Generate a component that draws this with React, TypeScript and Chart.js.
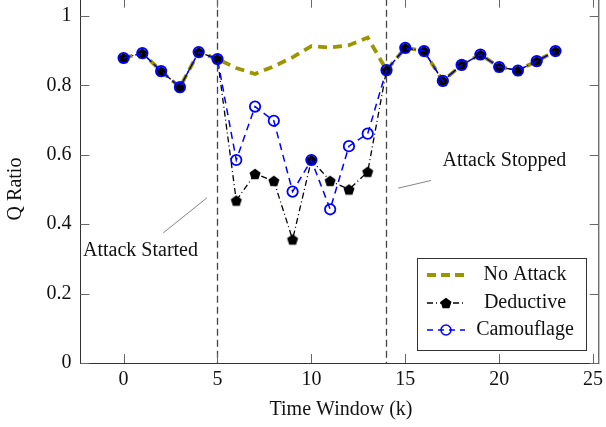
import React, { useEffect, useRef } from "react";
import { Chart, registerables } from "chart.js";

Chart.register(...registerables);

const timeWindows = [0, 1, 2, 3, 4, 5, 6, 7, 8, 9, 10, 11, 12, 13, 14, 15, 16, 17, 18, 19, 20, 21, 22, 23];
const noAttack = [0.879, 0.893, 0.841, 0.795, 0.896, 0.876, 0.85, 0.833, 0.855, 0.881, 0.913, 0.909, 0.916, 0.938, 0.844, 0.908, 0.899, 0.813, 0.859, 0.889, 0.853, 0.843, 0.87, 0.899];
const deductive = [0.879, 0.893, 0.841, 0.795, 0.896, 0.876, 0.468, 0.545, 0.525, 0.356, 0.585, 0.525, 0.5, 0.551, 0.844, 0.908, 0.899, 0.813, 0.859, 0.889, 0.853, 0.843, 0.87, 0.899];
const camouflage = [0.879, 0.893, 0.841, 0.795, 0.896, 0.876, 0.585, 0.739, 0.698, 0.494, 0.585, 0.443, 0.625, 0.661, 0.844, 0.908, 0.899, 0.813, 0.859, 0.889, 0.853, 0.843, 0.87, 0.899];
const xTicks = [0, 5, 10, 15, 20, 25];
const yTicks = [0, 0.2, 0.4, 0.6, 0.8, 1];
const attackStart = 5;
const attackStop = 14;
const seriesNames = ["No Attack", "Deductive", "Camouflage"];

const OLIVE = "rgb(155,150,0)";
const BLUE = "#0000ff";
const FONT = "Liberation Serif";
const OFFSET_Y = 10;
const W = 606;
const H = 437;

function makePentagon(r: number): HTMLCanvasElement {
  const c = document.createElement("canvas");
  const s = Math.ceil(r * 2 + 2);
  c.width = s;
  c.height = s;
  const g = c.getContext("2d")!;
  g.fillStyle = "#000";
  g.beginPath();
  for (let i = 0; i < 5; i++) {
    const a = -Math.PI / 2 + (i * 2 * Math.PI) / 5;
    const px = s / 2 + r * Math.cos(a);
    const py = s / 2 + 0.5 + r * Math.sin(a);
    if (i === 0) g.moveTo(px, py);
    else g.lineTo(px, py);
  }
  g.closePath();
  g.fill();
  return c;
}

export default function App() {
  const ref = useRef<HTMLCanvasElement>(null);

  useEffect(() => {
    document.body.style.overflow = "hidden";
    const pent = makePentagon(5.8);
    const toXY = (arr: number[]) => timeWindows.map((k, i) => ({ x: k, y: arr[i] }));

    const decor = {
      id: "decor",
      beforeDatasetsDraw(chart: any) {
        const ctx = chart.ctx;
        const xs = chart.scales.x;
        const a = chart.chartArea;
        ctx.save();
        ctx.strokeStyle = "#444";
        ctx.lineWidth = 1.3;
        ctx.setLineDash([7, 4]);
        [attackStart, attackStop].forEach((v) => {
          const px = Math.round(xs.getPixelForValue(v)) + 0.5;
          ctx.beginPath();
          ctx.moveTo(px, a.top);
          ctx.lineTo(px, a.bottom);
          ctx.stroke();
        });
        ctx.restore();
      },
      afterDraw(chart: any) {
        const ctx = chart.ctx;
        const xs = chart.scales.x;
        const ys = chart.scales.y;
        const a = chart.chartArea;
        ctx.save();
        // frame
        ctx.strokeStyle = "#333";
        ctx.lineWidth = 1;
        ctx.setLineDash([]);
        ctx.strokeRect(Math.round(a.left) + 0.5, a.top, a.right - a.left, Math.round(a.bottom) - a.top + 0.5);
        // ticks
        ctx.strokeStyle = "#666";
        const TL = 9;
        xTicks.forEach((v) => {
          const px = Math.round(xs.getPixelForValue(v)) + 0.5;
          ctx.beginPath();
          ctx.moveTo(px, a.bottom);
          ctx.lineTo(px, a.bottom - TL);
          ctx.moveTo(px, a.top);
          ctx.lineTo(px, a.top + TL);
          ctx.stroke();
        });
        yTicks.forEach((v) => {
          const py = Math.round(ys.getPixelForValue(v)) + 0.5;
          ctx.beginPath();
          ctx.moveTo(a.left, py);
          ctx.lineTo(a.left + TL, py);
          ctx.moveTo(a.right, py);
          ctx.lineTo(a.right - TL, py);
          ctx.stroke();
        });

        // annotations
        const P = (x: number, y: number) => [xs.getPixelForValue(x), ys.getPixelForValue(y)];
        ctx.strokeStyle = "#777";
        ctx.lineWidth = 0.9;
        const drawLine = (x1: number, y1: number, x2: number, y2: number) => {
          const [a1, b1] = P(x1, y1);
          const [a2, b2] = P(x2, y2);
          ctx.beginPath();
          ctx.moveTo(a1, b1);
          ctx.lineTo(a2, b2);
          ctx.stroke();
        };
        drawLine(2.11, 0.375, 4.44, 0.476);
        drawLine(14.63, 0.504, 16.37, 0.526);
        ctx.fillStyle = "#111";
        ctx.font = `20px "${FONT}"`;
        ctx.textAlign = "center";
        ctx.textBaseline = "middle";
        {
          const [tx, ty] = P(0.9, 0.323);
          ctx.fillText("Attack Started", tx, ty);
          const [sx, sy] = P(20.28, 0.582);
          ctx.fillText("Attack Stopped", sx, sy);
        }

        // axis titles
        ctx.fillText("Time Window (k)", 341, 410 + OFFSET_Y);
        ctx.save();
        ctx.translate(16, 189 + OFFSET_Y);
        ctx.rotate(-Math.PI / 2);
        ctx.fillText("Q Ratio", 0, 0);
        ctx.restore();

        // legend
        const lx = 417, ly = 258 + OFFSET_Y, lw = 169, lh = 92;
        ctx.fillStyle = "#fff";
        ctx.fillRect(lx, ly, lw, lh);
        ctx.strokeStyle = "#333";
        ctx.lineWidth = 1;
        ctx.strokeRect(lx + 0.5, ly + 0.5, lw, lh);
        const rows = [275, 303, 330].map((v) => v + OFFSET_Y);
        const s0 = 427, s1 = 465, sc = 446;
        ctx.strokeStyle = OLIVE;
        ctx.lineWidth = 3.8;
        ctx.setLineDash([9, 5]);
        ctx.beginPath();
        ctx.moveTo(s0, rows[0]);
        ctx.lineTo(s1, rows[0]);
        ctx.stroke();
        ctx.strokeStyle = "#000";
        ctx.lineWidth = 1.3;
        ctx.setLineDash([6, 3, 1, 3]);
        ctx.beginPath();
        ctx.moveTo(s0, rows[1]);
        ctx.lineTo(s1, rows[1]);
        ctx.stroke();
        ctx.setLineDash([]);
        ctx.drawImage(pent, sc - pent.width / 2, rows[1] - pent.height / 2);
        ctx.strokeStyle = BLUE;
        ctx.lineWidth = 1.5;
        ctx.setLineDash([6, 5]);
        ctx.beginPath();
        ctx.moveTo(s0, rows[2]);
        ctx.lineTo(s1, rows[2]);
        ctx.stroke();
        ctx.setLineDash([]);
        ctx.beginPath();
        ctx.arc(sc, rows[2], 5, 0, Math.PI * 2);
        ctx.stroke();
        ctx.fillStyle = "#111";
        ctx.font = `20px "${FONT}"`;
        ctx.textAlign = "center";
        seriesNames.forEach((n, i) => ctx.fillText(n, 525, rows[i]));
        ctx.restore();
      },
    };

    const chart = new Chart(ref.current!, {
      type: "line",
      data: {
        datasets: [
          {
            label: seriesNames[2],
            data: toXY(camouflage),
            borderColor: BLUE,
            borderWidth: 1.5,
            borderDash: [7, 5],
            pointStyle: "circle",
            pointRadius: 5.2,
            pointBorderWidth: 1.8,
            pointBorderColor: BLUE,
            pointBackgroundColor: "rgba(0,0,0,0)",
            tension: 0,
            fill: false,
            order: 1,
          },
          {
            label: seriesNames[1],
            data: toXY(deductive),
            borderColor: "#000",
            borderWidth: 1.3,
            borderDash: [6, 3, 1, 3],
            pointStyle: pent as any,
            pointRadius: 6,
            tension: 0,
            fill: false,
            order: 2,
          },
          {
            label: seriesNames[0],
            data: toXY(noAttack),
            borderColor: OLIVE,
            borderWidth: 3.8,
            borderDash: [9, 6],
            pointRadius: 0,
            tension: 0,
            fill: false,
            order: 3,
          },
        ],
      },
      options: {
        animation: false,
        responsive: false,
        devicePixelRatio: 1,
        layout: { padding: { top: 8.65, right: 3, left: 0, bottom: 0 } },
        plugins: { legend: { display: false }, tooltip: { enabled: false } },
        scales: {
          x: {
            type: "linear",
            min: -2.3,
            max: 25.3,
            afterBuildTicks: (s: any) => {
              s.ticks = xTicks.map((v) => ({ value: v }));
            },
            afterFit: (s: any) => {
              s.height = 64;
              s.paddingLeft = 0;
              s.paddingRight = 0;
            },
            grid: { display: false, drawTicks: false },
            border: { display: false },
            ticks: {
              padding: 5,
              color: "#111",
              font: { family: FONT, size: 20 },
              maxRotation: 0,
              autoSkip: false,
            },
          },
          y: {
            type: "linear",
            min: 0,
            max: 1.05,
            afterBuildTicks: (s: any) => {
              s.ticks = yTicks.map((v) => ({ value: v }));
            },
            afterFit: (s: any) => {
              s.width = 80.4;
              s.paddingTop = 0;
              s.paddingBottom = 0;
            },
            grid: { display: false, drawTicks: false },
            border: { display: false },
            ticks: {
              padding: 9,
              color: "#111",
              font: { family: FONT, size: 20 },
              autoSkip: false,
              callback: (v: any) => String(Math.round(Number(v) * 10) / 10),
            },
          },
        },
      },
      plugins: [decor],
    });
    return () => chart.destroy();
  }, []);

  return (
    <div style={{ position: "absolute", left: 0, top: -OFFSET_Y, width: W, height: H }}>
      <canvas ref={ref} width={W} height={H} style={{ width: W, height: H, display: "block" }} />
    </div>
  );
}
